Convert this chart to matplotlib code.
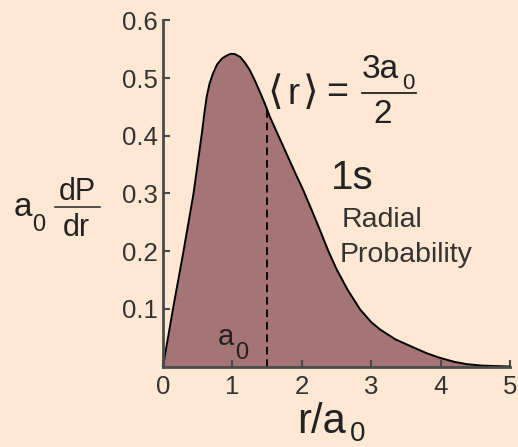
import matplotlib
matplotlib.use("Agg")
import matplotlib.pyplot as plt
from matplotlib.lines import Line2D

plt.rcParams['font.family'] = ['Liberation Sans', 'DejaVu Sans']

# 1s radial probability a0*dP/dr against r/a0
r_vals = [0.0, 0.15, 0.29, 0.44, 0.56, 0.595, 0.63, 0.67, 0.72, 0.78, 0.85, 0.90, 0.97,
          1.03, 1.11, 1.18, 1.25, 1.32, 1.40, 1.47, 1.54, 1.66, 1.78, 1.90, 2.02,
          2.14, 2.26, 2.38, 2.50, 2.66, 2.84, 3.00, 3.13, 3.35, 3.61, 3.80, 3.99,
          4.20, 4.38, 4.60, 5.0]
p_vals = [0.0, 0.104, 0.196, 0.300, 0.404, 0.438, 0.468, 0.490, 0.508, 0.524, 0.534, 0.538,
          0.542, 0.542, 0.537, 0.527, 0.514, 0.497, 0.475, 0.455, 0.433, 0.401, 0.369,
          0.337, 0.306, 0.272, 0.237, 0.201, 0.169, 0.133, 0.099, 0.077, 0.064, 0.047,
          0.033, 0.023, 0.015, 0.008, 0.004, 0.0015, 0.0]
r_mean = 1.5
p_at_mean = 0.446

x_ticks = [0, 1, 2, 3, 4, 5]
y_ticks = [0.1, 0.2, 0.3, 0.4, 0.5, 0.6]

bg = '#fee7d3'
fill = '#a57474'
axis_col = '#4a4a4a'
ink = '#222222'

W, H = 518, 447
fig = plt.figure(figsize=(W / 100, H / 100), dpi=100, facecolor=bg)


def label(x, y, s, size, ha='left', color=ink, family=None):
    fig.text(x / W, 1 - y / H, s, fontsize=size, ha=ha, va='baseline', color=color,
             family=family)


def hline(x0, x1, y, lw):
    fig.add_artist(Line2D([x0 / W, x1 / W], [1 - y / H, 1 - y / H],
                          transform=fig.transFigure, color=ink, lw=lw))


ax = fig.add_axes([163 / W, 80.5 / H, 347 / W, 346 / H])
ax.set_facecolor(bg)

ax.fill_between(r_vals, p_vals, 0, color=fill, lw=0)
ax.plot(r_vals, p_vals, color='black', lw=1.4, solid_joinstyle='round')
ax.plot([r_mean, r_mean], [0, p_at_mean], color='black', lw=1.3, dashes=(4.3, 2.6))

ax.set_xlim(0, 5)
ax.set_ylim(0, 0.6)
ax.set_xticks(x_ticks)
ax.set_yticks(y_ticks)
ax.set_xticklabels([str(t) for t in x_ticks])
ax.set_yticklabels([f'{t:.1f}' for t in y_ticks])
ax.tick_params(direction='in', length=5, width=1.5, color=axis_col,
               labelsize=18.5, labelcolor='#333333')
ax.tick_params(axis='x', pad=6)
ax.tick_params(axis='y', pad=4)
for side in ['top', 'right']:
    ax.spines[side].set_visible(False)
for side in ['left', 'bottom']:
    ax.spines[side].set_color(axis_col)
    ax.spines[side].set_linewidth(2)

# a0 marker near the peak
label(218, 345, 'a', 21)
label(235, 359, '0', 17)

# mean radius: <r> = 3a0/2
label(267, 104, '\u27e8', 29, family=['DejaVu Sans'])
label(288, 104, 'r', 26)
label(303, 104, '\u27e9', 29, family=['DejaVu Sans'])
label(326, 103, '=', 27)
label(362, 78, '3a', 24)
label(402, 89, '0', 16)
hline(362, 416, 93, 1.3)
label(383, 123, '2', 24, ha='center')

label(331, 189, '1s', 29)
label(342, 227, 'Radial', 20.5, color='#333333')
label(340, 262, 'Probability', 20.5, color='#333333')

# y label: a0 dP/dr
label(14, 216, 'a', 24)
label(32, 231, '0', 17)
label(77, 200, 'dP', 22, ha='center')
hline(55, 100, 207, 1.1)
label(76, 236, 'dr', 22, ha='center')

# x label
label(297, 433, 'r/a', 30)
label(350, 441, '0', 20)

fig.savefig('out.png', dpi=100, facecolor=bg)
